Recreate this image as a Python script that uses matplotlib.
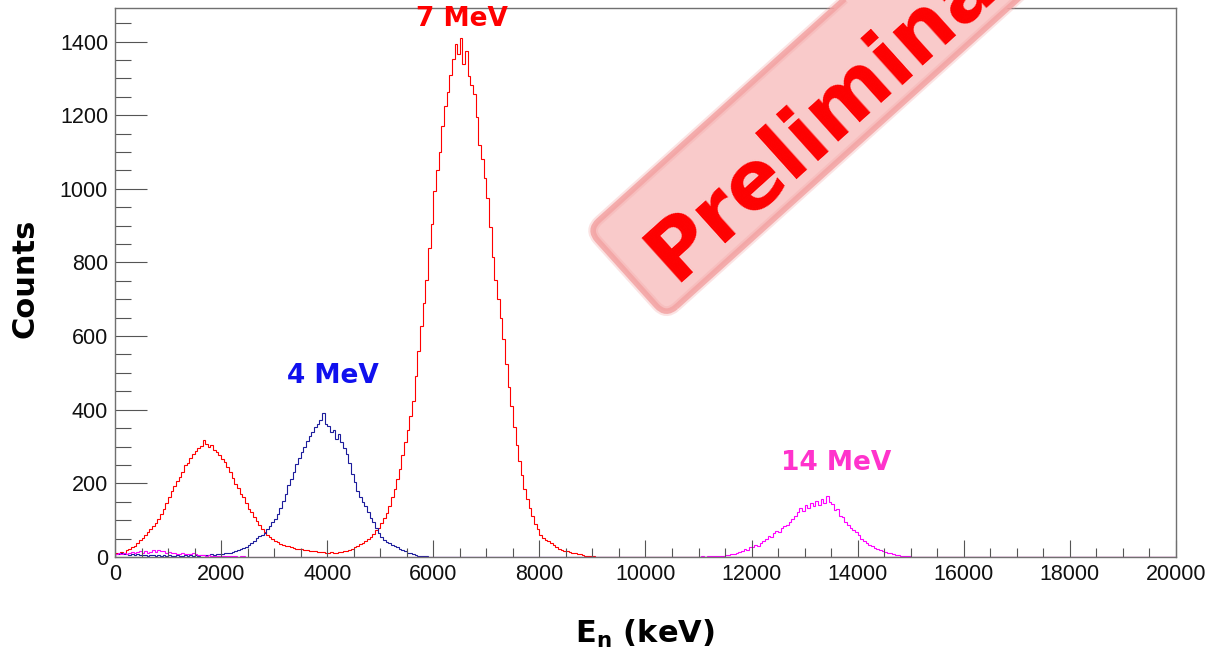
import numpy as np
import matplotlib
matplotlib.use("Agg")
import matplotlib.pyplot as plt
from matplotlib.patches import FancyBboxPatch
from matplotlib.transforms import Affine2D
from matplotlib.ticker import MultipleLocator

plt.rcParams.update({
    "font.family": "Liberation Sans",
    "mathtext.fontset": "dejavusans",
})

BIN_KEV = 50
E_MAX = 20000

# 7 MeV beam: counts per 50 keV bin from 0 keV (low bump + main peak)
RED_START = 0
RED_COUNTS = [
    12, 9, 14, 11, 18, 22, 26, 31, 38, 45,
    52, 60, 68, 75, 84, 92, 104, 116, 131, 148,
    162, 180, 192, 207, 216, 232, 249, 256, 270, 281,
    287, 296, 301, 318, 306, 299, 303, 290, 284, 276,
    265, 258, 244, 232, 215, 199, 188, 172, 162, 147,
    130, 122, 108, 99, 86, 76, 68, 60, 54, 49,
    43, 40, 36, 33, 31, 29, 27, 25, 23, 22,
    21, 19, 18, 17, 16, 15, 14, 13, 14, 12,
    12, 13, 11, 12, 13, 14, 15, 17, 19, 22,
    26, 30, 34, 39, 44, 50, 55, 63, 72, 80,
    92, 106, 120, 138, 162, 184, 211, 240, 276, 312,
    344, 382, 425, 492, 560, 628, 690, 752, 840, 905,
    995, 1050, 1100, 1170, 1225, 1262, 1310, 1352, 1392, 1365,
    1410, 1340, 1375, 1305, 1282, 1258, 1195, 1120, 1082, 1030,
    975, 895, 815, 752, 700, 648, 592, 525, 462, 410,
    352, 305, 262, 222, 186, 158, 132, 112, 90, 75,
    60, 52, 47, 43, 38, 32, 26, 22, 19, 17,
    15, 14, 12, 10, 9, 7, 6, 4, 3, 3,
    2, 1, 1,
]

# 4 MeV beam
BLUE_START = 0
BLUE_COUNTS = [
    9, 8, 10, 7, 8, 6, 7, 5, 7, 6,
    5, 6, 4, 6, 5, 4, 5, 4, 5, 4,
    5, 4, 3, 5, 4, 4, 5, 4, 5, 4,
    5, 4, 6, 5, 6, 5, 7, 6, 8, 7,
    9, 10, 11, 12, 14, 16, 18, 21, 24, 28,
    33, 38, 44, 51, 56, 61, 66, 75, 84, 95,
    104, 118, 134, 152, 172, 195, 212, 232, 252, 268,
    284, 298, 314, 328, 340, 352, 360, 372, 390, 362,
    355, 340, 346, 320, 334, 312, 296, 280, 256, 226,
    205, 180, 164, 150, 138, 122, 106, 94, 78, 64,
    55, 47, 42, 37, 33, 29, 26, 23, 19, 15,
    12, 10, 8, 6, 4, 3, 2, 2, 1, 1,
]

# 14 MeV beam: low-energy tail and main peak (bins in between are empty)
MAG_LOW_START = 0
MAG_LOW_COUNTS = [
    8, 10, 7, 12, 9, 11, 14, 10, 13, 16,
    12, 15, 11, 14, 18, 13, 20, 15, 17, 12,
    14, 10, 12, 9, 8, 10, 7, 9, 8, 12,
    7, 6, 5, 6, 4, 5, 4, 3, 4, 3,
    3, 2, 3, 2, 2, 3, 1, 2, 2, 1,
]
MAG_PEAK_START = 11000
MAG_PEAK_COUNTS = [
    1, 2, 1, 2, 2, 3, 2, 3, 4, 3,
    5, 6, 7, 9, 11, 14, 17, 21, 19, 26,
    28, 32, 30, 38, 43, 50, 57, 55, 64, 70,
    68, 78, 83, 88, 96, 102, 112, 121, 132, 126,
    140, 133, 146, 138, 152, 142, 158, 147, 166, 150,
    143, 128, 131, 112, 108, 96, 88, 80, 74, 68,
    60, 50, 44, 38, 33, 29, 25, 22, 19, 16,
    14, 12, 10, 8, 6, 5, 4, 3, 2, 2,
    1, 1,
]

PEAK_LABELS = ["7 MeV", "4 MeV", "14 MeV"]

edges = np.arange(0, E_MAX + BIN_KEV, BIN_KEV)
nbins = len(edges) - 1


def fill_hist(*segments):
    h = np.zeros(nbins)
    for start, counts in segments:
        i0 = start // BIN_KEV
        h[i0:i0 + len(counts)] = counts
    return h


h_red = fill_hist((RED_START, RED_COUNTS))
h_blue = fill_hist((BLUE_START, BLUE_COUNTS))
h_mag = fill_hist((MAG_LOW_START, MAG_LOW_COUNTS), (MAG_PEAK_START, MAG_PEAK_COUNTS))

fig = plt.figure(figsize=(12.09, 6.58), dpi=100)
ax = fig.add_axes([0.09512, 0.15350, 0.87758, 0.83434])

ax.stairs(h_red, edges, color="#ff0000", lw=0.8)
ax.stairs(h_blue, edges, color="#1c1c9c", lw=0.8)
ax.stairs(h_mag, edges, color="#ff00ff", lw=0.8)

ax.set_xlim(0, E_MAX)
ax.set_ylim(0, 1491)

# ROOT-like frame and inward ticks
for s in ax.spines.values():
    s.set_color("#707070")
    s.set_linewidth(1.0)
ax.xaxis.set_major_locator(MultipleLocator(2000))
ax.xaxis.set_minor_locator(MultipleLocator(500))
ax.yaxis.set_major_locator(MultipleLocator(200))
ax.yaxis.set_minor_locator(MultipleLocator(50))
ax.tick_params(axis="both", which="both", direction="in", color="#555555",
               width=0.8, labelsize=15.5, labelcolor="#111111")
ax.tick_params(axis="x", which="major", length=12.5, pad=5)
ax.tick_params(axis="x", which="minor", length=6.2)
ax.tick_params(axis="y", which="major", length=23, pad=5)
ax.tick_params(axis="y", which="minor", length=11.5)

# peak labels
lab_font = dict(family="DejaVu Sans", fontweight="bold", fontsize=19,
                ha="center", va="center")
ax.text(6541, 1462, PEAK_LABELS[0], color="#ff0000", **lab_font)
ax.text(4100, 492, PEAK_LABELS[1], color="#1010ee", **lab_font)
ax.text(13600, 254, PEAK_LABELS[2], color="#ff33cc", **lab_font)

fig.text(25 / 1209, 1 - 278 / 658, "Counts", rotation=90, ha="center", va="center",
         family="DejaVu Sans", fontweight="bold", fontsize=22)
fig.text(645 / 1209, 1 - 634 / 658, r"E$_{\mathbf{n}}$ (keV)", ha="center", va="center",
         family="DejaVu Sans", fontweight="bold", fontsize=22)

# "Preliminary" stamp, laid out in inches along a tilted strip
stamp_tr = Affine2D().rotate_deg(42).translate(6.27, 6.58 - 2.73) + fig.dpi_scale_trans
body = FancyBboxPatch((0.0, -0.58), 7.0, 1.16,
                      boxstyle="round,pad=0,rounding_size=0.14",
                      transform=stamp_tr, facecolor="#f9caca",
                      edgecolor="none", zorder=9)
fig.add_artist(body)
# soft rim: a faint wide stroke under a narrower one
for lw, a in ((7, 0.3), (4, 0.85)):
    rim = FancyBboxPatch((0.0, -0.58), 7.0, 1.16,
                         boxstyle="round,pad=0,rounding_size=0.14",
                         transform=stamp_tr, facecolor="none",
                         edgecolor="#f3a3a3", lw=lw, alpha=a, zorder=10)
    fig.add_artist(rim)
fig.text(0.29, -0.385, "Preliminary", transform=stamp_tr, rotation=42,
         rotation_mode="anchor", ha="left", va="baseline",
         family="DejaVu Sans", fontweight="bold", fontsize=59,
         color="#ff0000", zorder=11)

fig.savefig("out.png", dpi=100)
